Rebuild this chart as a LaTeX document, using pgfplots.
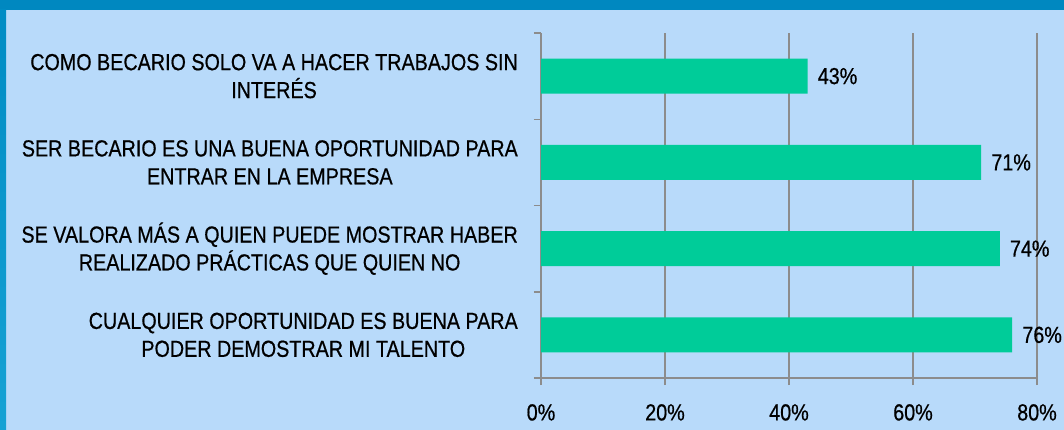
\documentclass[border=0pt]{standalone}
\usepackage{fontspec}
\setmainfont{Liberation Sans}
\newfontfamily\cond[FakeStretch=0.85, FakeBold=0.6]{Liberation Sans}
\usepackage{pgfplots}
\pgfplotsset{compat=1.18}
\definecolor{bgc}{HTML}{B8DAFA}
\definecolor{topb}{HTML}{0088C0}
\definecolor{leftt}{HTML}{008CC4}
\definecolor{leftb}{HTML}{16A2D4}
\definecolor{barc}{HTML}{00CC99}
\definecolor{gridc}{HTML}{8C8C8C}

\begin{document}
\begin{tikzpicture}
\path[use as bounding box] (0,0) rectangle (1064bp,430bp);
\fill[bgc] (0,0) rectangle (1064bp,430bp);
\fill[topb] (0,420bp) rectangle (1064bp,430bp);
\shade[top color=leftt, bottom color=leftb] (0,0) rectangle (6bp,420bp);
\begin{axis}[
  at={(541bp,52bp)}, anchor=south west,
  scale only axis, width=496bp, height=345bp,
  xbar, bar width=35bp,
  xmin=0, xmax=80, ymin=-0.5, ymax=3.5,
  axis x line*=bottom, axis y line*=left,
  axis line style={gridc, line width=1.5bp},
  xtick={0,20,40,60,80},
  xticklabel={\pgfmathprintnumber{\tick}\%},
  ytick={-0.5,0.5,1.5,2.5,3.5},
  yticklabels={},
  extra y ticks={0,1,2,3},
  extra y tick labels={
    {CUALQUIER OPORTUNIDAD ES BUENA PARA\\PODER DEMOSTRAR MI TALENTO},
    {SE VALORA MÁS A QUIEN PUEDE MOSTRAR HABER\\REALIZADO PRÁCTICAS QUE QUIEN NO},
    {SER BECARIO ES UNA BUENA OPORTUNIDAD PARA\\ENTRAR EN LA EMPRESA},
    {COMO BECARIO SOLO VA A HACER TRABAJOS SIN\\INTERÉS}},
  extra y tick style={major tick length=0pt,
    yticklabel style={align=center, inner sep=0pt, xshift=-23bp}},
  tick align=outside,
  major tick length=7bp,
  tick style={gridc, line width=1.5bp},
  xmajorgrids, grid style={gridc, line width=1.5bp},
  ticklabel style={font=\cond\fontsize{23.3}{28}\selectfont, text=black,
    /pgf/number format/assume math mode=true},
  xticklabel style={inner sep=0pt, yshift=-19bp},
  nodes near coords={\pgfmathprintnumber{\pgfplotspointmeta}\%},
  nodes near coords style={anchor=west, inner sep=0pt, xshift=10bp,
    font=\cond\fontsize{23.3}{28}\selectfont, text=black,
    /pgf/number format/assume math mode=true},
]
\addplot[fill=barc, draw=none] coordinates {(76,0) (74,1) (71,2) (43,3)};
\end{axis}
\end{tikzpicture}
\end{document}
